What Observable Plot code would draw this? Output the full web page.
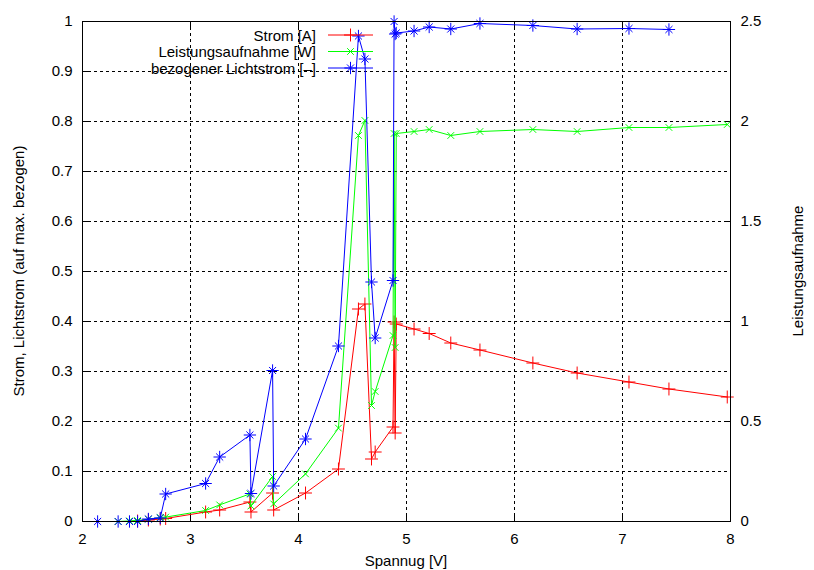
<!DOCTYPE html>
<html><head><meta charset="utf-8">
<script src="https://cdn.jsdelivr.net/npm/d3@7"></script>
<script src="https://cdn.jsdelivr.net/npm/@observablehq/plot@0.6"></script>
<style>
html,body{margin:0;padding:0;background:#fff;}
#chart{width:814px;height:570px;}
svg{font-family:"Liberation Sans",Arial,sans-serif;}
</style></head><body><div id="chart"></div>
<script>
// Voltage samples (measurement order)
const spannung   = [2.14, 2.33, 2.435, 2.51, 2.61, 2.72, 2.77, 3.14, 3.27, 3.55, 3.56, 3.76, 3.77, 4.065, 4.37, 4.555, 4.615, 4.676, 4.71, 4.875, 4.885, 4.895, 4.905, 5.07, 5.21, 5.41, 5.68, 6.17, 6.58, 7.06, 7.43, 7.97];
// Strom (relative, left axis)
const strom      = [null, null, null, 0.001, 0.003, 0.005, 0.006, 0.019, 0.023, 0.039, 0.019, 0.057, 0.023, 0.057, 0.105, 0.425, 0.435, 0.125, 0.139, 0.189, 0.399, 0.177, 0.395, 0.385, 0.376, 0.357, 0.343, 0.317, 0.297, 0.279, 0.265, 0.249];
// Leistungsaufnahme [W] (right axis, 0..2.5)
const leistung   = [null, 0, 0.003, 0.005, 0.012, 0.02, 0.022, 0.055, 0.083, 0.138, 0.078, 0.225, 0.088, 0.238, 0.467, 1.93, 2.005, 0.58, 0.65, 0.93, 1.94, 0.87, 1.94, 1.95, 1.96, 1.93, 1.95, 1.96, 1.95, 1.97, 1.97, 1.985];
// bezogener Lichtstrom (left axis)
const lichtstrom = [0, 0, 0, 0, 0.005, 0.007, 0.055, 0.076, 0.129, 0.173, 0.056, 0.302, 0.071, 0.165, 0.351, 0.971, 0.925, 0.479, 0.367, 0.482, 1.0, 0.975, 0.977, 0.981, 0.989, 0.985, 0.996, 0.992, 0.985, 0.986, 0.984, null];

const xTicks  = [2, 3, 4, 5, 6, 7, 8];
const yTicks  = [0, 0.1, 0.2, 0.3, 0.4, 0.5, 0.6, 0.7, 0.8, 0.9, 1];
const y2Ticks = [0, 0.5, 1, 1.5, 2, 2.5];
const y2Max = 2.5;
const seriesNames = ["Strom [A]", "Leistungsaufnahme [W]", "bezogener Lichtstrom [–]"];
const colors = ["#ff0000", "#00ff00", "#0000ff"];
const xLabel = "Spannug [V]";
const yLabel = "Strom, Lichtstrom (auf max. bezogen)";
const y2Label = "Leistungsaufnahme";

const rows = spannung.map((u, i) => ({u, strom: strom[i], leistung: leistung[i], licht: lichtstrom[i]}));

const W = 814, H = 570, mL = 82, mR = 84, mT = 21, mB = 49;
const FS = 15;
const grid = {stroke: "black", strokeOpacity: 1, strokeWidth: 1, strokeDasharray: "3,3"};

const plot = Plot.plot({
  width: W, height: H,
  marginLeft: mL, marginRight: mR, marginTop: mT, marginBottom: mB,
  style: {fontFamily: '"Liberation Sans", Arial, sans-serif', fontSize: FS + "px", color: "black", background: "white", overflow: "visible"},
  x: {domain: [2, 8]},
  y: {domain: [0, 1]},
  marks: [
    Plot.gridX(xTicks.slice(1, -1), grid),
    Plot.gridY(yTicks.slice(1, -1), grid),
    Plot.axisX(xTicks, {anchor: "bottom", tickSize: -6, tickPadding: 18, tickFormat: d => String(d), label: null}),
    Plot.axisX(xTicks, {anchor: "top", tickSize: -6, tickFormat: () => "", label: null}),
    Plot.axisY(yTicks, {anchor: "left", tickSize: -6, tickPadding: 16, tickFormat: d => String(d), label: null}),
    Plot.axisY(y2Ticks.map(v => v / y2Max), {anchor: "right", tickSize: -6, tickPadding: 16, tickFormat: d => String(Math.round(d * y2Max * 10) / 10), label: null}),
    Plot.line(rows, {filter: d => d.strom != null, x: "u", y: "strom", stroke: colors[0], strokeWidth: 1}),
    Plot.dot(rows, {filter: d => d.strom != null, x: "u", y: "strom", symbol: "plus", r: 4.24, stroke: colors[0], strokeWidth: 1}),
    Plot.line(rows, {filter: d => d.leistung != null, x: "u", y: d => d.leistung / y2Max, stroke: colors[1], strokeWidth: 1}),
    Plot.dot(rows, {filter: d => d.leistung != null, x: "u", y: d => d.leistung / y2Max, symbol: "times", r: 3.11, stroke: colors[1], strokeWidth: 1}),
    Plot.line(rows, {filter: d => d.licht != null, x: "u", y: "licht", stroke: colors[2], strokeWidth: 1}),
    Plot.dot(rows, {filter: d => d.licht != null, x: "u", y: "licht", symbol: "plus", r: 4.05, stroke: colors[2], strokeWidth: 1}),
    Plot.dot(rows, {filter: d => d.licht != null, x: "u", y: "licht", symbol: "times", r: 3.3, stroke: colors[2], strokeWidth: 1}),
    Plot.frame({stroke: "black", strokeWidth: 1})
  ]
});
document.getElementById("chart").appendChild(plot);

// Axis titles and legend (layout only)
const svg = d3.select(plot);
const t = svg.append("g").attr("font-size", FS).attr("fill", "black");
t.append("text").attr("transform", `translate(18,${(mT + H - mB) / 2}) rotate(-90)`).attr("text-anchor", "middle").attr("dominant-baseline", "central").text(yLabel);
t.append("text").attr("transform", `translate(797,${(mT + H - mB) / 2}) rotate(-90)`).attr("text-anchor", "middle").attr("dominant-baseline", "central").text(y2Label);
t.append("text").attr("x", (mL + W - mR) / 2).attr("y", 560).attr("text-anchor", "middle").attr("dominant-baseline", "central").text(xLabel);

const legY = [35, 51.5, 68];
const symSets = [[d3.symbolPlus, 56.6], [d3.symbolTimes, 30.4], null];
seriesNames.forEach((name, i) => {
  const g = svg.append("g");
  g.append("text").attr("x", 316).attr("y", legY[i]).attr("text-anchor", "end").attr("dominant-baseline", "central").attr("font-size", FS).text(name);
  g.append("line").attr("x1", 328).attr("x2", 373).attr("y1", legY[i]).attr("y2", legY[i]).attr("stroke", colors[i]).attr("stroke-width", 1);
  const syms = i === 0 ? [[d3.symbolPlus, 56.6]] : i === 1 ? [[d3.symbolTimes, 30.4]] : [[d3.symbolPlus, 51.6], [d3.symbolTimes, 34.2]];
  syms.forEach(([s, size]) => {
    g.append("path").attr("transform", `translate(350.5,${legY[i]})`).attr("d", d3.symbol(s, size)()).attr("fill", "none").attr("stroke", colors[i]).attr("stroke-width", 1);
  });
});
</script></body></html>
